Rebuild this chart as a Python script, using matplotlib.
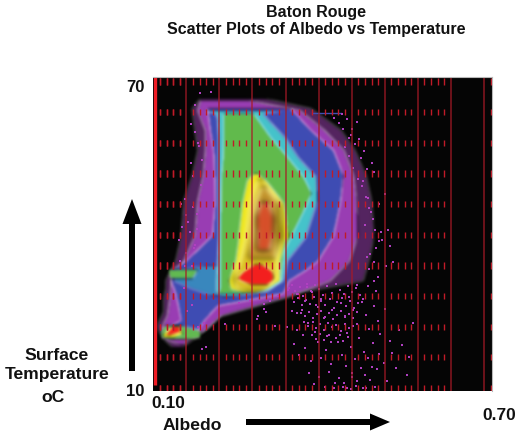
import numpy as np
import matplotlib
matplotlib.use("Agg")
import matplotlib.pyplot as plt

plt.rcParams['font.family'] = ['Liberation Sans', 'DejaVu Sans']

# --- values: band outlines (temperature row, left albedo, right albedo)
halo_T = [66.8, 64.8, 60.5, 56.6, 51.7, 46.8, 39.9, 35.0, 31.1, 29.5, 27.5, 25.0, 22.0, 19.5, 18.0]
halo_L = [.185, .170, .175, .180, .170, .155, .150, .140, .122, .122, .118, .118, .105, .120, .135]
halo_R = [.300, .385, .440, .465, .485, .495, .500, .490, .480, .400, .270, .225, .200, .170, .150]

purple_T = [66.4, 64.4, 60.5, 56.6, 51.7, 46.8, 39.9, 35.0, 31.1, 28.0, 24.2, 21.3, 19.4, 18.6]
purple_L = [.185, .180, .194, .194, .190, .180, .175, .155, .132, .130, .125, .112, .127, .150]
purple_R = [.270, .365, .410, .445, .462, .468, .470, .455, .420, .345, .222, .191, .158, .156]

blue_T = [64.8, 60.5, 56.6, 51.7, 46.8, 39.9, 35.0, 33.1, 31.1, 28.6, 26.2, 23.3, 21.3, 20.0]
blue_L = [.198, .203, .209, .211, .212, .207, .160, .132, .132, .140, .145, .150, .118, .135]
blue_R = [.348, .385, .426, .444, .439, .426, .398, .375, .345, .335, .216, .191, .180, .165]

cyan_T = [64.4, 63.9, 62.9, 59.1, 55.2, 51.3, 46.8, 39.5, 35.0, 31.1, 29.0, 28.0]
cyan_L = [.191, .212, .216, .218, .218, .218, .218, .218, .216, .214, .214, .225]
cyan_R = [.335, .298, .305, .338, .362, .395, .397, .375, .342, .335, .305, .240]

cyan_lobe_T = [34.0, 33.0, 31.1, 29.5, 28.2]
cyan_lobe_L = [.190, .140, .136, .170, .205]
cyan_lobe_R = [.225, .225, .225, .225, .225]

green_T = [63.8, 59.1, 55.2, 51.3, 48.2, 44.8, 39.5, 36.9, 34.4, 31.1, 29.5, 28.6]
green_L = [.227, .227, .226, .223, .222, .222, .221, .221, .221, .221, .221, .216]
green_R = [.281, .312, .343, .372, .386, .372, .348, .336, .334, .330, .307, .258]

lobe_T = [33.3, 32.5, 31.5]
lobe_L = [.127, .127, .130]
lobe_R = [.180, .176, .170]

yellow_T = [52.1, 50.7, 46.2, 39.5, 38.9, 35.0, 31.1, 29.5, 28.8]
yellow_L = [.283, .270, .261, .254, .254, .249, .236, .240, .262]
yellow_R = [.287, .303, .336, .345, .338, .329, .329, .303, .285]

amber_T = [51.0, 46.2, 39.5, 35.0, 31.5, 29.6, 29.1]
amber_L = [.290, .276, .268, .258, .245, .250, .275]
amber_R = [.296, .331, .334, .322, .322, .305, .295]

orange_T = [49.5, 46.2, 39.5, 35.5]
orange_L = [.297, .285, .279, .272]
orange_R = [.302, .325, .327, .318]

redup_T = [46.5, 43.5, 40.0, 37.0]
redup_L = [.295, .286, .288, .287]
redup_R = [.307, .318, .316, .310]

red_T = [34.3, 33.5, 32.7, 31.5, 30.9, 30.3]
red_L = [.283, .272, .261, .252, .262, .278]
red_R = [.295, .308, .316, .317, .314, .305]

blob_green_T = [22.3, 21.3, 20.0, 19.6]
blob_green_L = [.120, .113, .113, .130]
blob_green_R = [.150, .185, .185, .170]

blob_yellow_T = [22.0, 20.6, 19.9]
blob_yellow_L = [.130, .117, .118]
blob_yellow_R = [.148, .152, .135]

blob_red_T = [22.2, 21.0, 20.4]
blob_red_L = [.135, .125, .122]
blob_red_R = [.147, .148, .130]

streak_A = [.39, .44]
streak_T = [63.8, 63.8]

# --- isolated points
speck_A = [.347, .362, .375, .388, .395, .405, .352, .368, .381, .410, .425, .440, .455, .342, .360, .372, .393, .418,
           .432, .447, .462, .478, .355, .376, .398, .414, .436, .452, .470, .486, .500, .365, .387, .404, .422, .442,
           .458, .474, .492, .508, .520, .383, .401, .419, .437, .450, .466, .482, .498, .512, .392, .411, .430, .446,
           .461, .476, .490, .428, .444, .458, .470, .484, .496, .510, .530, .545, .452, .468, .480, .494, .506, .518,
           .534, .552, .564, .572, .460, .486, .502, .524, .540, .560, .500, .470, .522,
           .488, .505, .535, .485, .495, .510, .520, .525, .515, .500, .530, .505, .490, .480, .497, .513,
           .175, .163, .158, .172, .160, .180, .168, .181, .150, .147, .170, .156, .196, .230, .255, .275, .300, .290,
           .448, .456, .463, .471, .479, .486, .492, .498, .503, .509, .455, .466, .476, .487, .494, .501, .445, .458,
           .469, .483, .491, .507, .437, .451, .474, .489, .428, .443, .460,
           .176, .183, .188, .168, .172, .179, .186, .160, .166, .174, .152, .158, .148, .170, .192, .162, .181, .188,
           .300, .312, .326, .345, .360, .378, .288, .305, .320, .205, .184, .176,
           .351, .358, .366, .372, .379, .386, .393, .401, .408, .416, .424, .431, .439, .446, .453, .460, .468, .475,
           .356, .363, .370, .377, .384, .391, .398, .405, .412, .420, .427, .434, .442, .449, .457, .464, .471, .480,
           .361, .369, .376, .383, .390, .397, .404, .411, .419, .426, .433, .441, .448, .456, .463, .470,
           .374, .381, .389, .396, .403, .410, .417, .425, .432, .440, .447, .455, .462,
           .388, .395, .402, .409, .416, .423, .431, .438, .445, .453]
speck_T = [29.5, 28.4, 27.0, 28.8, 26.2, 27.5, 25.0, 24.6, 22.8, 23.6, 25.3, 26.6, 27.9, 22.0, 21.3, 20.4, 21.0, 20.3,
           22.4, 24.0, 25.2, 26.9, 18.6, 17.8, 18.9, 17.4, 19.0, 20.8, 22.6, 24.2, 26.0, 16.4, 15.2, 15.9, 14.6, 16.4,
           18.0, 19.8, 21.6, 23.2, 25.4, 13.0, 12.2, 13.1, 12.0, 14.2, 15.6, 17.0, 18.8, 20.6, 10.8, 10.2, 10.9, 11.0,
           12.9, 14.0, 15.8, 9.9, 10.1, 9.8, 11.3, 12.6, 14.1, 16.6, 19.1, 21.4, 10.0, 10.3, 9.9, 11.6, 13.7, 14.9,
           16.8, 18.4, 16.0, 22.8, 12.2, 9.9, 10.2, 11.4, 13.9, 12.6, 31.0, 30.2, 33.8,
           35.6, 37.5, 34.7, 42.0, 44.5, 46.0, 48.0, 41.0, 39.0, 52.2, 37.8, 29.0, 47.2, 50.5, 54.0, 40.6,
           38.0, 42.5, 47.0, 51.5, 36.5, 44.0, 54.0, 58.0, 46.0, 39.0, 33.8, 29.5, 18.0, 22.5, 26.6, 27.0, 25.5, 24.0,
           57.2, 55.4, 53.1, 51.0, 49.6, 47.3, 45.2, 43.1, 41.0, 38.7, 59.0, 57.8, 55.0, 52.8, 36.2, 34.6, 60.8, 59.6,
           62.0, 56.5, 33.2, 31.8, 61.8, 62.6, 58.8, 30.0, 62.9, 63.6, 60.7,
           60.2, 57.4, 54.6, 61.6, 45.4, 41.2, 49.8, 43.8, 40.6, 37.4, 41.5, 33.9, 34.9, 26.2, 22.7, 25.0, 22.0, 17.6,
           26.4, 27.1, 28.1, 29.1, 28.4, 29.7, 23.5, 24.9, 22.1, 68.0, 67.8, 65.4,
           30.2, 28.9, 29.8, 28.1, 30.4, 29.0, 30.1, 29.4, 28.2, 29.9, 28.6, 30.3, 29.2, 28.4, 30.0, 28.8, 29.6, 28.2,
           26.9, 27.6, 26.2, 27.2, 26.5, 27.9, 25.9, 27.0, 26.3, 27.4, 25.7, 26.8, 27.7, 26.0, 27.1, 25.6, 26.6, 27.5,
           24.7, 25.2, 24.1, 24.9, 23.7, 24.5, 25.0, 23.9, 24.6, 23.5, 24.3, 25.1, 23.8, 24.4, 23.6, 24.8,
           22.9, 22.1, 23.0, 21.7, 22.5, 21.4, 22.7, 21.9, 22.3, 21.2, 22.6, 21.8, 22.2,
           20.3, 19.6, 20.6, 19.3, 20.1, 19.0, 19.8, 20.4, 19.2, 19.9]

# --- tick structure of the plate
div_A = [.16, .22, .28, .34, .40, .46, .52, .58, .64, .70]
dash_rows = [10, 16, 22, 28, 34, 40, 46, 52, 58, 64, 70]
sub_A = [.112, .124, .136, .148]

title_lines = ["Baton Rouge", "Scatter Plots of Albedo vs Temperature"]


def blur(img, passes):
    r = 2
    w = (.09, .24, .34, .24, .09)
    pad = 3 * passes + 1
    out = np.pad(img, ((pad, pad), (pad, pad), (0, 0)))
    for _ in range(passes):
        for axis in (0, 1):
            tmp = np.zeros_like(out)
            for k, wk in zip(range(-r, r + 1), w):
                tmp += wk * np.roll(out, k, axis=axis)
            out = tmp
    return out, -pad, -pad


def soft1(img, dpi):
    return blur(img, 1)


def soft3(img, dpi):
    return blur(img, 3)


fig = plt.figure(figsize=(5.17, 4.33), dpi=100)
fig.patch.set_facecolor('white')
W, H = 517, 433
ax = fig.add_axes([153.3 / W, 1 - 391 / H, (492 - 153.3) / W, (391 - 77) / H])
ax.set_facecolor('#050505')
ax.set_xlim(0.1, 0.7146)
ax.set_ylim(9.4, 70.9)
ax.set_xticks([])
ax.set_yticks([])
for s in ax.spines.values():
    s.set_visible(False)

bands = [
    (halo_T, halo_L, halo_R, '#8a3a9e', 1, .6, soft1),
    (purple_T, purple_L, purple_R, '#9a3fb4', 2, 1, soft1),
    (blue_T, blue_L, blue_R, '#3f4eb4', 3, 1, soft1),
    (cyan_lobe_T, cyan_lobe_L, cyan_lobe_R, '#38a8c4', 4, .65, soft1),
    (cyan_T, cyan_L, cyan_R, '#46c4cc', 4, 1, soft1),
    (green_T, green_L, green_R, '#62ba4c', 5, 1, soft1),
    (lobe_T, lobe_L, lobe_R, '#62bb50', 5, 1, soft1),
    (yellow_T, yellow_L, yellow_R, '#f2e81e', 6, 1, soft1),
    (amber_T, amber_L, amber_R, '#dcc024', 7, 1, soft3),
    (orange_T, orange_L, orange_R, '#c2922c', 8, 1, soft3),
    (redup_T, redup_L, redup_R, '#d8502a', 9, 1, soft3),
    (red_T, red_L, red_R, '#f41e1e', 10, 1, soft1),
    (blob_green_T, blob_green_L, blob_green_R, '#62bb50', 5, 1, soft1),
    (blob_yellow_T, blob_yellow_L, blob_yellow_R, '#f0e61e', 6, 1, soft1),
    (blob_red_T, blob_red_L, blob_red_R, '#f2201f', 10, 1, soft1),
]
for t, l, r, c, z, al, flt in bands:
    p = ax.fill_betweenx(t, l, r, color=c, lw=0, zorder=z, alpha=al)
    p.set_agg_filter(flt)

ax.plot(streak_A, streak_T, color='#3f4eb4', lw=1, zorder=3)
ax.scatter(speck_A, speck_T, s=3.2, marker='s', color='#b040c0', lw=0, zorder=10)

# plate grid
for a in div_A:
    ax.axvline(a, color='#a81a26', lw=1.1, alpha=.8, zorder=11)
ax.plot([.1035, .1035], [10.5, 70.9], color='#ee1c25', lw=2.4, zorder=12, solid_capstyle='butt')
for base in [0.0] + [d - .16 for d in div_A[:-1]] + [.60]:
    for s in sub_A:
        x = s + base
        if x < .7146:
            ax.vlines([x] * len(dash_rows), np.array(dash_rows) - .62, np.array(dash_rows) + .62,
                      color='#c01a28', lw=1.0, zorder=11)

# frame hairlines
ax.plot([.1, .7146], [70.85, 70.85], color='#b8b8b8', lw=.8, zorder=13, clip_on=False)
ax.plot([.7143, .7143], [9.4, 70.9], color='#b8b8b8', lw=.8, zorder=13, clip_on=False)


def T(x, y, s, fs):
    fig.text(x / W, 1 - y / H, s, fontweight='bold', ha='center', va='center', color='#111111', fontsize=fs)


T(316.5, 13, title_lines[0], 11.5)
T(316, 29.5, title_lines[1], 11.5)
T(135, 88, "70", 12)
T(135, 392, "10", 12)
T(168, 404, "0.10", 12.5)
T(499.5, 415, "0.70", 12.5)
T(192, 425, "Albedo", 12.6)
T(57, 355, "Surface", 12.6)
T(57.5, 375, "Temperature", 12.6)
T(53, 397, "oC", 12.6)

over = fig.add_axes([0, 0, 1, 1], facecolor='none')
over.set_xlim(0, W)
over.set_ylim(H, 0)
over.axis('off')
over.arrow(132, 371, 0, -172, width=6, head_width=19, head_length=25, length_includes_head=True,
           color='black', lw=0)
over.arrow(246, 422, 144, 0, width=6, head_width=17, head_length=20, length_includes_head=True,
           color='black', lw=0)

fig.savefig('out.png', dpi=100)
